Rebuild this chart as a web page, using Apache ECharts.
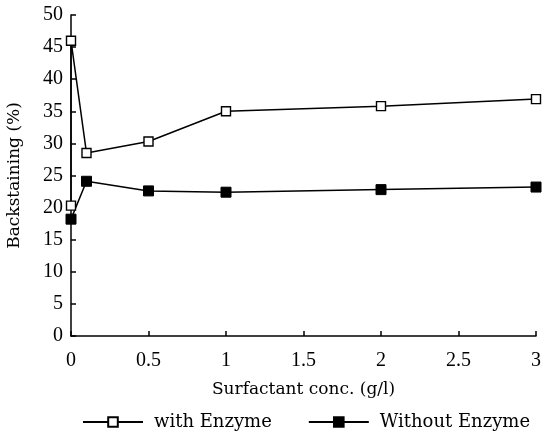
<!DOCTYPE html>
<html><head><meta charset="utf-8">
<script src="https://cdn.jsdelivr.net/npm/echarts@6/dist/echarts.min.js"></script>
<style>html,body{margin:0;padding:0;background:#fff}#c{width:542px;height:438px}</style>
</head><body><div id="c"></div>
<script>
const withX = [0, 0, 0.1, 0.5, 1, 2, 3];
const withY = [20.3, 46, 28.5, 30.3, 35, 35.8, 36.9];
const withoutX = [0, 0.1, 0.5, 1, 2, 3];
const withoutY = [18.2, 24.1, 22.6, 22.4, 22.8, 23.2];
const xTicks = [0, 0.5, 1, 1.5, 2, 2.5, 3];
const yTicks = [0, 5, 10, 15, 20, 25, 30, 35, 40, 45, 50];

const tickFont = 'Liberation Serif';
const textFont = 'DejaVu Serif';
const chart = echarts.init(document.getElementById('c'));
chart.setOption({
  animation: false,
  backgroundColor: '#fff',
  grid: {left: 71, right: 6, top: 15, bottom: 102, outerBoundsMode: 'none', containLabel: false},
  legend: {
    left: 77, top: 408, itemWidth: 60, itemHeight: 12, itemGap: 36,
    textStyle: {fontFamily: textFont, fontSize: 18, color: '#000', padding: [0, 0, 0, 6]},
    data: ['with Enzyme', 'Without Enzyme']
  },
  xAxis: {
    type: 'value', min: 0, max: 3, interval: 0.5,
    name: 'Surfactant conc. (g/l)', nameLocation: 'middle', nameGap: 45,
    nameTextStyle: {fontFamily: textFont, fontSize: 17, color: '#000'},
    axisLine: {lineStyle: {color: '#000', width: 1.5}},
    axisTick: {inside: true, length: 5, lineStyle: {color: '#000', width: 1.5}},
    axisLabel: {fontFamily: tickFont, fontSize: 20, color: '#000', margin: 15,
      formatter: v => xTicks.includes(v) ? String(v) : ''},
    splitLine: {show: false}
  },
  yAxis: {
    type: 'value', min: 0, max: 50, interval: 5,
    name: 'Backstaining (%)', nameLocation: 'middle', nameGap: 48,
    nameTextStyle: {fontFamily: textFont, fontSize: 17, color: '#000'},
    axisLine: {show: true, lineStyle: {color: '#000', width: 1.5}},
    axisTick: {show: true, inside: true, length: 5, lineStyle: {color: '#000', width: 1.5}},
    axisLabel: {fontFamily: tickFont, fontSize: 20, color: '#000', margin: 8,
      formatter: v => yTicks.includes(v) ? String(v) : ''},
    splitLine: {show: false}
  },
  series: [
    {
      name: 'with Enzyme', type: 'line',
      data: withX.map((x, i) => [x, withY[i]]),
      symbol: 'rect', symbolSize: 9,
      itemStyle: {color: '#fff', borderColor: '#000', borderWidth: 1.4},
      lineStyle: {color: '#000', width: 1.5}
    },
    {
      name: 'Without Enzyme', type: 'line',
      data: withoutX.map((x, i) => [x, withoutY[i]]),
      symbol: 'rect', symbolSize: 10,
      itemStyle: {color: '#000', borderColor: '#000', borderWidth: 1},
      lineStyle: {color: '#000', width: 1.5}
    }
  ]
});
</script></body></html>
